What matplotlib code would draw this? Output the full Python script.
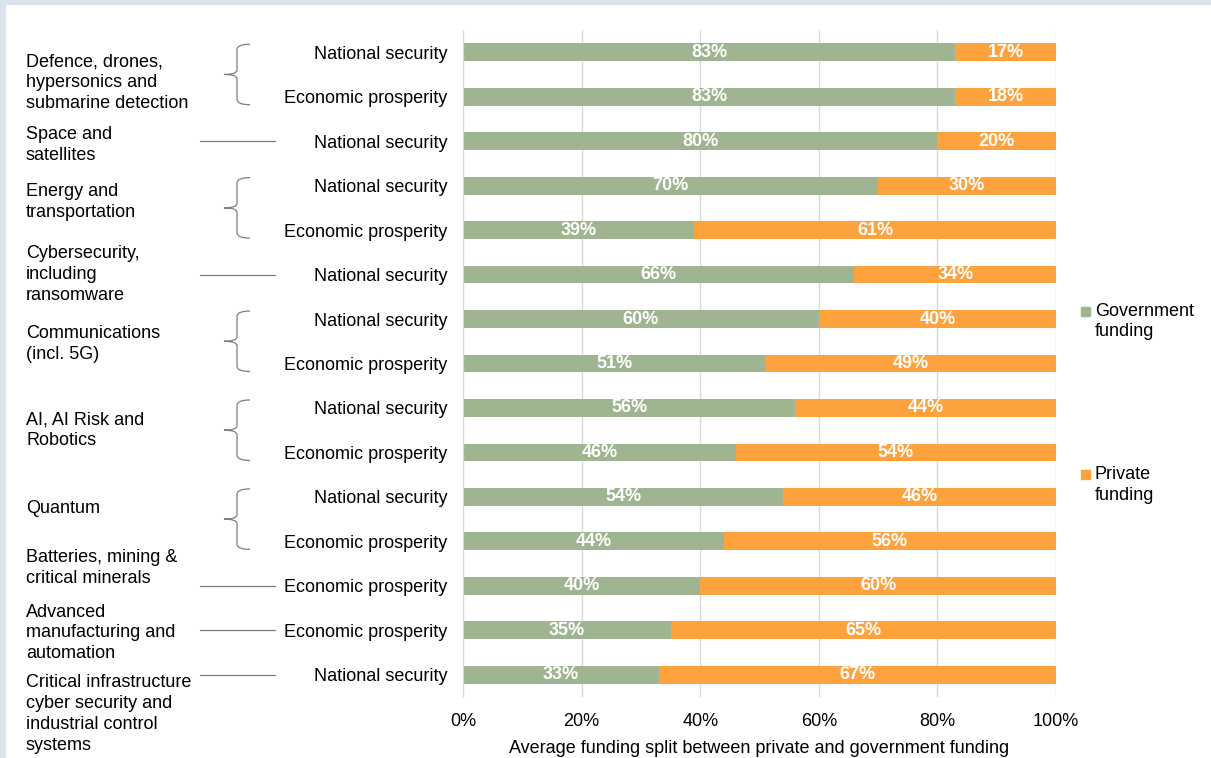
import matplotlib.pyplot as plt
import numpy as np
from matplotlib.patches import Rectangle, PathPatch
from matplotlib.path import Path
from matplotlib.transforms import blended_transform_factory, offset_copy

plt.rcParams['font.family'] = ['Liberation Sans', 'DejaVu Sans']

FUNDING_TYPE = ['National security', 'Economic prosperity', 'National security',
                'National security', 'Economic prosperity', 'National security',
                'National security', 'Economic prosperity', 'National security',
                'Economic prosperity', 'National security', 'Economic prosperity',
                'Economic prosperity', 'Economic prosperity', 'National security']
GOVERNMENT = [83, 83, 80, 70, 39, 66, 60, 51, 56, 46, 54, 44, 40, 35, 33]
PRIVATE = [17, 18, 20, 30, 61, 34, 40, 49, 44, 54, 46, 56, 60, 65, 67]

GROUPS = ['Defence, drones,\nhypersonics and\nsubmarine detection',
          'Space and\nsatellites',
          'Energy and\ntransportation',
          'Cybersecurity,\nincluding\nransomware',
          'Communications\n(incl. 5G)',
          'AI, AI Risk and\nRobotics',
          'Quantum',
          'Batteries, mining &\ncritical minerals',
          'Advanced\nmanufacturing and\nautomation',
          'Critical infrastructure\ncyber security and\nindustrial control\nsystems']
GROUP_SIZE = [2, 1, 2, 1, 2, 2, 2, 1, 1, 1]
# where each group name sits, relative to its first row
GROUP_TEXT_SHIFT = [0.68, 0.08, 0.36, -0.01, 0.57, 0.5, 0.27, -0.4, 0.06, 0.88]

GREEN = '#9fb592'
ORANGE = '#fea23e'
W, H = 1211, 758


def fx(px):
    return px / W


def fy(py):
    return 1 - py / H


fig = plt.figure(figsize=(W / 100, H / 100), dpi=100, facecolor='#dce3f0')
fig.add_artist(Rectangle((fx(6), 0), 1, fy(5), transform=fig.transFigure,
                         facecolor='white', edgecolor='none', zorder=-5))

ax = fig.add_axes([fx(463), fy(697), fx(1056) - fx(463), fy(30) - fy(697)])
ax.set_facecolor('none')
rows = np.arange(len(GOVERNMENT))
gov = ax.barh(rows, GOVERNMENT, height=0.4, color=GREEN)
priv = ax.barh(rows, PRIVATE, height=0.4, left=GOVERNMENT, color=ORANGE)
for bars in (gov, priv):
    labels = ax.bar_label(bars, fmt='%d%%', label_type='center', color='white',
                          fontsize=13, fontweight='bold')
    for t in labels:
        t.set_transform(offset_copy(t.get_transform(), fig=fig, y=-1.5, units='points'))

ax.set_xlim(0, 100)
ax.set_ylim(len(rows) - 0.5, -0.5)
ax.set_xticks(np.arange(0, 101, 20), [f'{v}%' for v in range(0, 101, 20)])
ax.set_yticks(rows, FUNDING_TYPE)
ax.tick_params(axis='y', length=0, pad=11.5, labelsize=13)
ax.tick_params(axis='x', length=0, pad=11.5, labelsize=13)
ax.xaxis.grid(True, color='#dadada', lw=1)
ax.set_axisbelow(True)
for s in ['top', 'right', 'bottom']:
    ax.spines[s].set_visible(False)
ax.spines['left'].set_color('#dadada')
ax.set_xlabel('Average funding split between private and government funding',
              fontsize=13, labelpad=7)

# group names with braces / connector lines
tr = blended_transform_factory(fig.transFigure, ax.transData)
x_end, x_v, x_tip = fx(250), fx(237), fx(224)
start = 0
for name, size, shift in zip(GROUPS, GROUP_SIZE, GROUP_TEXT_SHIFT):
    r0, r1 = start, start + size - 1
    ax.text(fx(26), r0 + shift, name, transform=tr, ha='left', va='center',
            fontsize=13, linespacing=1.3, clip_on=False)
    if size > 1:
        top, bot = r0 - 0.18, r1 + 0.18
        mid = (top + bot) / 2
        verts = [(x_end, top), (x_v, top), (x_v, top + 0.12),
                 (x_v, mid - 0.1), (x_v, mid), (x_tip, mid),
                 (x_v, mid), (x_v, mid + 0.1),
                 (x_v, bot - 0.12), (x_v, bot), (x_end, bot)]
        codes = [Path.MOVETO, Path.CURVE3, Path.CURVE3,
                 Path.LINETO, Path.CURVE3, Path.CURVE3,
                 Path.CURVE3, Path.CURVE3,
                 Path.LINETO, Path.CURVE3, Path.CURVE3]
        ax.add_artist(PathPatch(Path(verts, codes), transform=tr, fill=False,
                                edgecolor='#7f7f7f', lw=0.9, clip_on=False))
    else:
        ax.plot([fx(200), fx(275)], [r0, r0], transform=tr, color='#7f7f7f',
                lw=0.9, clip_on=False)
    start += size

# legend
for label, color, cy in [('Government\nfunding', GREEN, 321.5),
                         ('Private\nfunding', ORANGE, 485)]:
    fig.add_artist(Rectangle((fx(1081), fy(cy - 5.5)), fx(9), 9 / H,
                             transform=fig.transFigure, color=color))
    fig.text(fx(1095), fy(cy), label, ha='left', va='center', fontsize=13,
             linespacing=1.3)

fig.savefig('out.png', dpi=100, facecolor=fig.get_facecolor())
